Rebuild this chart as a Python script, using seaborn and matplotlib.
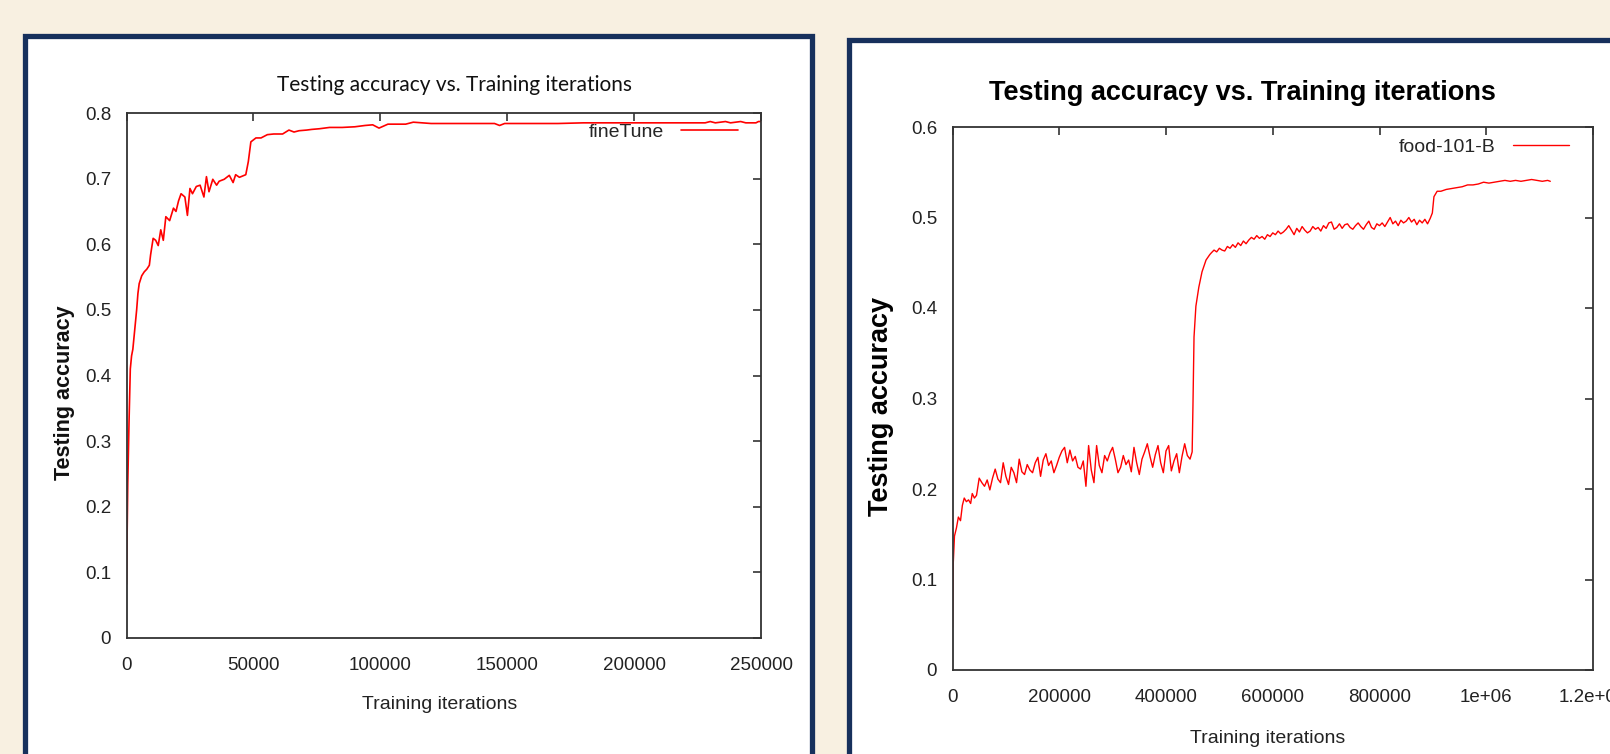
import matplotlib
matplotlib.use("Agg")
import matplotlib.pyplot as plt
import pandas as pd
import seaborn as sns
from matplotlib.patches import Rectangle

# ---- left chart: fineTune ----
finetune_iters = [
    0, 500, 1000, 1500, 2000, 2500, 3000, 3500, 4000, 4500, 5000, 6000, 7000, 8000,
    9000, 9500, 10500, 11500, 12500, 13500, 14500, 15500, 17000, 18500, 19500, 20500,
    21500, 23000, 24000, 25000, 26000, 27500, 29000, 30500, 31500, 32500, 34000, 35500,
    36500, 38500, 40500, 42000, 43000, 44500, 47000, 48000, 49000, 51000, 53000, 55500,
    58000, 61500, 64000, 66000, 68000, 71000, 73000, 76000, 80000, 85000, 90000, 94000,
    97000, 99500, 103000, 110000, 113000, 120000, 130000, 140000, 145000, 147000, 149000,
    160000, 170000, 180000, 190000, 200000, 210000, 220000, 228000, 230000, 232000,
    236000, 238000, 242000, 244000, 248000, 249000, 250000,
]
finetune_acc = [
    0.082, 0.235, 0.330, 0.410, 0.430, 0.440, 0.460, 0.480, 0.500, 0.525, 0.540, 0.552, 0.558, 0.562,
    0.568, 0.584, 0.609, 0.606, 0.598, 0.622, 0.606, 0.642, 0.636, 0.655, 0.650, 0.666,
    0.677, 0.672, 0.644, 0.685, 0.677, 0.688, 0.690, 0.672, 0.703, 0.680, 0.699, 0.690,
    0.696, 0.699, 0.705, 0.694, 0.706, 0.702, 0.706, 0.726, 0.756, 0.762, 0.762, 0.767,
    0.768, 0.768, 0.774, 0.771, 0.773, 0.774, 0.775, 0.776, 0.778, 0.778, 0.779, 0.781,
    0.782, 0.777, 0.783, 0.783, 0.786, 0.784, 0.784, 0.784, 0.784, 0.781, 0.784,
    0.784, 0.784, 0.785, 0.785, 0.785, 0.785, 0.785, 0.785, 0.787, 0.785,
    0.787, 0.785, 0.787, 0.785, 0.785, 0.787, 0.787,
]
left_xticks = [0, 50000, 100000, 150000, 200000, 250000]
left_xlabels = ["0", "50000", "100000", "150000", "200000", "250000"]
left_yticks = [0, 0.1, 0.2, 0.3, 0.4, 0.5, 0.6, 0.7, 0.8]
left_ylabels = ["0", "0.1", "0.2", "0.3", "0.4", "0.5", "0.6", "0.7", "0.8"]

# ---- right chart: food-101-B ----
food_iters_start = [0, 1500, 3700, 7400, 11000, 15000, 18500, 22000, 26000, 30000, 34000, 37000, 41000, 45000]
food_acc_start = [0.047, 0.119, 0.148, 0.157, 0.169, 0.165, 0.182, 0.190, 0.186, 0.188, 0.184, 0.195, 0.190, 0.193]

food_iters_plateau1 = list(range(50000, 450000, 5000))
food_acc_plateau1 = [
    0.212, 0.207, 0.203, 0.210, 0.199, 0.212, 0.222, 0.211, 0.207, 0.229,
    0.214, 0.205, 0.224, 0.218, 0.207, 0.233, 0.219, 0.216, 0.227, 0.221,
    0.218, 0.229, 0.235, 0.214, 0.232, 0.239, 0.226, 0.231, 0.218, 0.226,
    0.235, 0.242, 0.246, 0.229, 0.243, 0.231, 0.236, 0.224, 0.222, 0.231,
    0.203, 0.248, 0.221, 0.207, 0.248, 0.226, 0.218, 0.237, 0.231, 0.240,
    0.246, 0.233, 0.218, 0.224, 0.237, 0.227, 0.232, 0.219, 0.246, 0.229,
    0.216, 0.233, 0.241, 0.250, 0.236, 0.224, 0.238, 0.248, 0.229, 0.218,
    0.242, 0.248, 0.220, 0.231, 0.239, 0.218, 0.236, 0.250, 0.237, 0.233,
]

food_iters_jump1 = [449000, 450500, 452500, 456000, 461500, 467500, 475000, 482000]
food_acc_jump1 = [0.241, 0.292, 0.368, 0.402, 0.423, 0.440, 0.453, 0.459]

food_iters_plateau2 = list(range(485000, 900000, 5000))
food_acc_plateau2 = [
    0.461, 0.464, 0.462, 0.466, 0.464, 0.463, 0.468, 0.466, 0.470, 0.467,
    0.472, 0.469, 0.474, 0.471, 0.475, 0.478, 0.476, 0.480, 0.477, 0.479,
    0.476, 0.481, 0.479, 0.483, 0.481, 0.485, 0.482, 0.484, 0.487, 0.491,
    0.486, 0.481, 0.488, 0.484, 0.490, 0.486, 0.483, 0.485, 0.490, 0.487,
    0.489, 0.485, 0.491, 0.488, 0.494, 0.495, 0.487, 0.489, 0.493, 0.488,
    0.492, 0.493, 0.489, 0.487, 0.491, 0.494, 0.490, 0.487, 0.492, 0.496,
    0.489, 0.487, 0.493, 0.491, 0.494, 0.490, 0.495, 0.500, 0.493, 0.496,
    0.491, 0.497, 0.494, 0.496, 0.500, 0.495, 0.498, 0.492, 0.497, 0.494,
    0.498, 0.493, 0.499,
]

food_iters_end = [
    899000, 902000, 908000, 915000, 925000, 935000, 945000, 955000, 965000, 975000, 985000,
    995000, 1005000, 1015000, 1025000, 1035000, 1045000, 1055000, 1065000, 1075000,
    1085000, 1095000, 1105000, 1115000, 1120000,
]
food_acc_end = [
    0.505, 0.523, 0.529, 0.529, 0.531, 0.532, 0.533, 0.534, 0.536, 0.536, 0.537,
    0.539, 0.538, 0.539, 0.540, 0.541, 0.540, 0.541, 0.540, 0.541,
    0.542, 0.541, 0.540, 0.541, 0.540,
]
right_xticks = [0, 200000, 400000, 600000, 800000, 1000000, 1200000]
right_xlabels = ["0", "200000", "400000", "600000", "800000", "1e+06", "1.2e+06"]
right_yticks = [0, 0.1, 0.2, 0.3, 0.4, 0.5, 0.6]
right_ylabels = ["0", "0.1", "0.2", "0.3", "0.4", "0.5", "0.6"]

CREAM = "#f8f0e1"
NAVY = "#17305c"
SANS = ["Liberation Sans", "DejaVu Sans"]
HUMANIST = ["Lato", "DejaVu Sans"]


def style_axes(ax, xticks, xlabels, yticks, ylabels, xpad, ypad):
    ax.set_xticks(xticks)
    ax.set_xticklabels(xlabels, family=SANS, fontsize=13.5, color="#222222")
    ax.set_yticks(yticks)
    ax.set_yticklabels(ylabels, family=SANS, fontsize=13.5, color="#222222")
    ax.tick_params(direction="in", top=True, right=True, length=6, width=1.2, color="#333333")
    ax.tick_params(axis="x", pad=xpad)
    ax.tick_params(axis="y", pad=ypad)
    for sp in ax.spines.values():
        sp.set_visible(True)
        sp.set_color("#333333")
        sp.set_linewidth(1.3)


def main():
    sns.set_theme(style="white")
    plt.rcParams["font.family"] = SANS

    fig = plt.figure(figsize=(16.1, 7.54), dpi=100, facecolor=CREAM)

    # panel frames
    fig.patches.append(Rectangle((24.5 / 1610, -0.05), (811.5 - 24.5) / 1610, 1.05 - 35.5 / 754,
                                 transform=fig.transFigure, facecolor="white", edgecolor=NAVY,
                                 linewidth=3.8, zorder=-1))
    fig.patches.append(Rectangle((848.5 / 1610, -0.05), 0.6, 1.05 - 39.5 / 754,
                                 transform=fig.transFigure, facecolor="white", edgecolor=NAVY,
                                 linewidth=3.8, zorder=-1))

    # left panel
    ax1 = fig.add_axes([126.5 / 1610, 1 - 638 / 754, 634.5 / 1610, 525 / 754])
    df1 = pd.DataFrame({"iter": finetune_iters, "acc": finetune_acc})
    sns.lineplot(data=df1, x="iter", y="acc", ax=ax1, color="#ff0000", linewidth=1.2, label="fineTune")
    ax1.set_xlim(0, 250000)
    ax1.set_ylim(0, 0.8)
    style_axes(ax1, left_xticks, left_xlabels, left_yticks, left_ylabels, 14, 11)
    ax1.set_title("Testing accuracy vs. Training iterations", family=HUMANIST, fontsize=15,
                  color="#111111", x=0.5177, y=1.0533, va="center", pad=0)
    ax1.set_xlabel("Training iterations", family=SANS, fontsize=14, color="#222222", va="center")
    ax1.xaxis.set_label_coords(0.494, -0.1276)
    ax1.set_ylabel("Testing accuracy", family=SANS, fontsize=15.5, weight="bold", color="#111111", va="center")
    ax1.yaxis.set_label_coords(-0.0985, 0.4667)
    ax1.legend(loc="center right", bbox_to_anchor=(0.963, 0.9638), frameon=False, markerfirst=False,
               borderpad=0, borderaxespad=0, handlelength=2.9, handletextpad=0.9,
               prop={"family": SANS, "size": 14})

    # right panel
    ax2 = fig.add_axes([952.5 / 1610, 1 - 670 / 754, 640.5 / 1610, 543 / 754])
    df2 = pd.DataFrame({
        "iter": food_iters_start + food_iters_plateau1 + food_iters_jump1 + food_iters_plateau2 + food_iters_end,
        "acc": food_acc_start + food_acc_plateau1 + food_acc_jump1 + food_acc_plateau2 + food_acc_end,
    })
    sns.lineplot(data=df2, x="iter", y="acc", ax=ax2, color="#ff0000", linewidth=1.0, label="food-101-B")
    ax2.set_xlim(0, 1200000)
    ax2.set_ylim(0, 0.6)
    style_axes(ax2, right_xticks, right_xlabels, right_yticks, right_ylabels, 14, 11)
    ax2.set_title("Testing accuracy vs. Training iterations", family=SANS, fontsize=19.5, weight="bold",
                  color="#000000", x=0.452, y=1.0626, va="center", pad=0)
    ax2.set_xlabel("Training iterations", family=SANS, fontsize=14, color="#222222", va="center")
    ax2.xaxis.set_label_coords(0.4926, -0.127)
    ax2.set_ylabel("Testing accuracy", family=SANS, fontsize=19.5, weight="bold", color="#000000", va="center")
    ax2.yaxis.set_label_coords(-0.1123, 0.4862)
    ax2.legend(loc="center right", bbox_to_anchor=(0.9625, 0.963), frameon=False, markerfirst=False,
               borderpad=0, borderaxespad=0, handlelength=2.9, handletextpad=0.9,
               prop={"family": SANS, "size": 14})

    fig.savefig("out.png", dpi=100, facecolor=CREAM)
    plt.close(fig)


if __name__ == "__main__":
    main()
